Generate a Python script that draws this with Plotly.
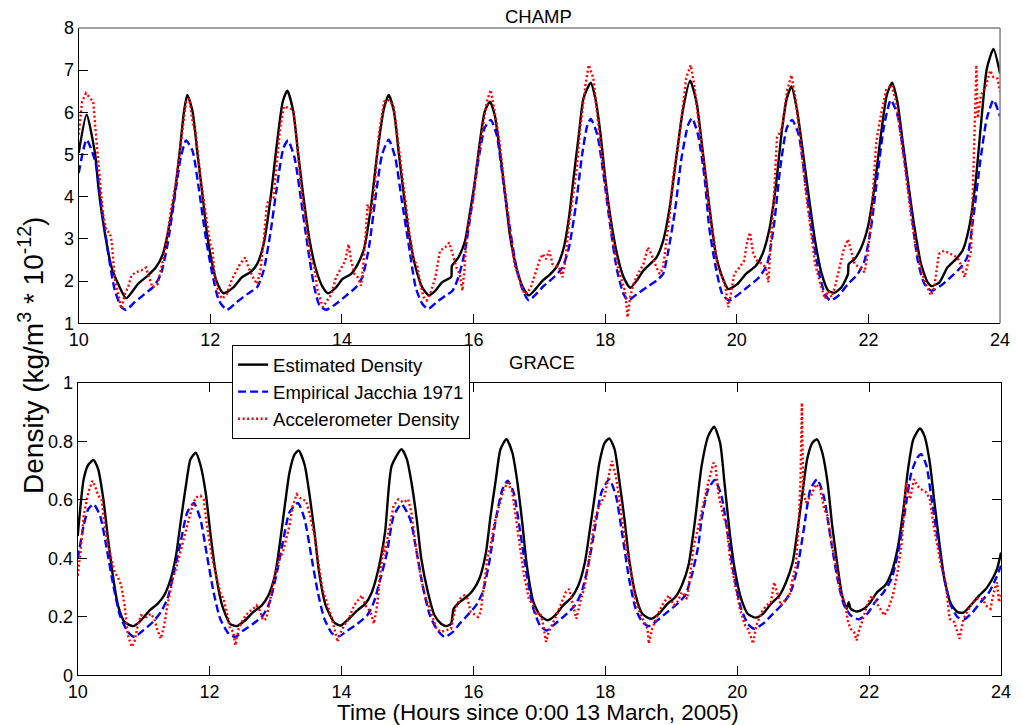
import plotly.graph_objects as go

# ---------------- data (hours, density) ----------------
champ_est = [
    (10.00, 5.04), (10.12, 5.94), (10.25, 5.00), (10.30, 4.21), (10.40, 3.11), (10.50, 2.32), (10.60, 1.93),
    (10.72, 1.59), (10.90, 1.93), (11.05, 2.13), (11.17, 2.32), (11.28, 2.64), (11.35, 3.11), (11.45, 3.97),
    (11.53, 5.00), (11.60, 6.02), (11.65, 6.41), (11.73, 6.02), (11.80, 5.08), (11.88, 4.05), (11.95, 3.11),
    (12.03, 2.40), (12.10, 1.97), (12.20, 1.71), (12.35, 1.85), (12.48, 2.09), (12.61, 2.21), (12.71, 2.40),
    (12.81, 2.87), (12.91, 3.90), (13.01, 5.23), (13.10, 6.25), (13.17, 6.51), (13.26, 6.02), (13.33, 5.08),
    (13.41, 4.05), (13.51, 2.95), (13.61, 2.25), (13.71, 1.85), (13.79, 1.71), (13.91, 1.85), (14.01, 2.05),
    (14.14, 2.17), (14.24, 2.40), (14.34, 2.79), (14.44, 3.75), (14.54, 5.08), (14.64, 6.10), (14.71, 6.41),
    (14.79, 6.02), (14.86, 5.08), (14.94, 4.05), (15.02, 3.11), (15.12, 2.32), (15.22, 1.85), (15.32, 1.66),
    (15.42, 1.77), (15.52, 1.97), (15.66, 2.10), (15.67, 2.36), (15.77, 2.56), (15.87, 2.95), (15.94, 3.58),
    (16.02, 4.37), (16.09, 5.23), (16.17, 6.02), (16.25, 6.25), (16.32, 5.94), (16.40, 5.08), (16.48, 4.05),
    (16.55, 3.11), (16.65, 2.32), (16.75, 1.85), (16.84, 1.66), (16.92, 1.77), (17.05, 2.01), (17.17, 2.17),
    (17.27, 2.36), (17.37, 2.79), (17.45, 3.51), (17.52, 4.45), (17.60, 5.47), (17.67, 6.33), (17.78, 6.70),
    (17.85, 6.33), (17.93, 5.47), (18.00, 4.45), (18.08, 3.51), (18.18, 2.64), (18.28, 2.09), (18.38, 1.84),
    (18.48, 2.01), (18.58, 2.25), (18.68, 2.40), (18.78, 2.56), (18.88, 2.95), (18.98, 3.74), (19.08, 4.92),
    (19.18, 6.05), (19.29, 6.75), (19.39, 6.22), (19.48, 5.10), (19.58, 3.80), (19.68, 2.64), (19.78, 2.09),
    (19.87, 1.81), (20.01, 1.93), (20.14, 2.17), (20.29, 2.36), (20.39, 2.64), (20.49, 3.19), (20.59, 4.21),
    (20.69, 5.63), (20.76, 6.33), (20.83, 6.61), (20.91, 6.10), (20.99, 5.23), (21.09, 4.05), (21.19, 2.95),
    (21.29, 2.17), (21.39, 1.77), (21.48, 1.72), (21.59, 1.85), (21.69, 2.17), (21.70, 2.40), (21.79, 2.52),
    (21.89, 2.79), (21.99, 3.27), (22.09, 4.21), (22.19, 5.47), (22.28, 6.41), (22.36, 6.70), (22.44, 6.25),
    (22.52, 5.31), (22.60, 4.37), (22.70, 3.27), (22.80, 2.40), (22.90, 1.97), (22.96, 1.88), (23.08, 1.97),
    (23.20, 2.32), (23.33, 2.52), (23.43, 2.72), (23.53, 3.27), (23.63, 4.37), (23.71, 5.71), (23.80, 7.04),
    (23.90, 7.50), (24.00, 6.92),
]

champ_jac = [
    (10.00, 4.56), (10.12, 5.35), (10.25, 4.84), (10.35, 3.74), (10.45, 2.64), (10.55, 1.77), (10.65, 1.38),
    (10.72, 1.32), (10.85, 1.50), (11.00, 1.69), (11.15, 1.89), (11.25, 2.17), (11.35, 2.87), (11.45, 3.90),
    (11.55, 4.92), (11.63, 5.33), (11.73, 5.08), (11.83, 4.13), (11.93, 3.03), (12.03, 2.17), (12.13, 1.54),
    (12.25, 1.32), (12.40, 1.50), (12.56, 1.69), (12.71, 1.85), (12.81, 2.25), (12.91, 3.11), (13.01, 4.21),
    (13.11, 5.15), (13.18, 5.33), (13.28, 4.92), (13.38, 3.90), (13.48, 2.80), (13.58, 1.85), (13.66, 1.42),
    (13.76, 1.32), (13.91, 1.46), (14.06, 1.65), (14.21, 1.85), (14.31, 2.09), (14.41, 2.80), (14.51, 3.98),
    (14.61, 5.00), (14.71, 5.35), (14.81, 4.92), (14.91, 3.90), (15.02, 2.80), (15.12, 1.85), (15.22, 1.46),
    (15.31, 1.34), (15.44, 1.50), (15.57, 1.65), (15.68, 1.77), (15.77, 2.09), (15.87, 2.72), (15.97, 3.74),
    (16.07, 4.84), (16.17, 5.63), (16.26, 5.82), (16.35, 5.47), (16.45, 4.37), (16.55, 3.27), (16.65, 2.32),
    (16.75, 1.77), (16.84, 1.54), (16.95, 1.69), (17.07, 1.89), (17.22, 2.09), (17.35, 2.32), (17.45, 2.80),
    (17.55, 3.74), (17.65, 5.00), (17.73, 5.70), (17.78, 5.84), (17.88, 5.47), (17.98, 4.45), (18.08, 3.27),
    (18.18, 2.25), (18.28, 1.69), (18.35, 1.54), (18.48, 1.69), (18.63, 1.85), (18.78, 2.01), (18.88, 2.17),
    (18.95, 2.64), (19.06, 3.66), (19.16, 4.92), (19.26, 5.70), (19.32, 5.86), (19.41, 5.47), (19.51, 4.45),
    (19.58, 3.27), (19.68, 2.32), (19.78, 1.69), (19.88, 1.54), (20.03, 1.69), (20.19, 1.89), (20.34, 2.09),
    (20.46, 2.40), (20.56, 3.27), (20.66, 4.68), (20.76, 5.63), (20.84, 5.82), (20.94, 5.47), (21.04, 4.37),
    (21.14, 3.19), (21.24, 2.25), (21.34, 1.69), (21.42, 1.54), (21.54, 1.65), (21.69, 1.93), (21.84, 2.17),
    (21.94, 2.48), (22.04, 3.27), (22.14, 4.53), (22.24, 5.70), (22.34, 6.29), (22.44, 5.94), (22.55, 4.84),
    (22.65, 3.66), (22.75, 2.48), (22.85, 1.93), (22.96, 1.77), (23.10, 1.89), (23.25, 2.09), (23.40, 2.32),
    (23.50, 2.56), (23.60, 3.58), (23.70, 4.84), (23.80, 5.86), (23.90, 6.29), (24.00, 5.90),
]

champ_acc = [
    (10.00, 5.47), (10.05, 6.25), (10.11, 6.45), (10.17, 6.33), (10.22, 6.25), (10.27, 5.31), (10.32, 4.37),
    (10.37, 3.58), (10.42, 3.19), (10.47, 3.15), (10.50, 2.95), (10.55, 2.01), (10.60, 1.69), (10.65, 1.34),
    (10.70, 1.69), (10.75, 1.85), (10.80, 2.13), (10.87, 2.21), (10.95, 2.25), (11.02, 2.32), (11.07, 2.09),
    (11.12, 1.85), (11.20, 1.93), (11.25, 2.25), (11.30, 2.64), (11.35, 3.11), (11.40, 3.66), (11.48, 4.37),
    (11.55, 5.31), (11.63, 6.25), (11.68, 6.33), (11.73, 5.78), (11.78, 5.47), (11.85, 4.45), (11.93, 3.58),
    (12.00, 2.87), (12.03, 2.80), (12.06, 2.17), (12.13, 1.69), (12.18, 1.58), (12.25, 1.69), (12.33, 2.05),
    (12.40, 2.25), (12.45, 2.40), (12.53, 2.56), (12.58, 2.32), (12.66, 2.05), (12.71, 1.93), (12.76, 2.25),
    (12.81, 2.95), (12.86, 3.82), (12.91, 3.97), (12.96, 3.97), (13.01, 4.76), (13.06, 5.63), (13.12, 6.14),
    (13.18, 6.11), (13.26, 6.06), (13.31, 5.39), (13.38, 4.21), (13.46, 3.27), (13.53, 2.48), (13.58, 2.32),
    (13.63, 1.77), (13.71, 1.38), (13.76, 1.50), (13.84, 1.69), (13.91, 2.09), (13.99, 2.32), (14.05, 2.48),
    (14.10, 2.87), (14.14, 2.48), (14.19, 2.17), (14.24, 2.09), (14.29, 1.89), (14.32, 2.32), (14.36, 3.11),
    (14.39, 3.82), (14.44, 3.58), (14.49, 4.13), (14.56, 5.47), (14.64, 6.25), (14.69, 6.30), (14.74, 6.25),
    (14.79, 6.10), (14.86, 5.23), (14.94, 4.13), (15.02, 3.19), (15.09, 2.48), (15.14, 2.40), (15.19, 1.93),
    (15.24, 1.62), (15.29, 1.54), (15.34, 1.69), (15.42, 2.09), (15.49, 2.72), (15.57, 2.80), (15.63, 2.91),
    (15.68, 2.64), (15.74, 2.32), (15.79, 2.17), (15.83, 1.77), (15.86, 2.25), (15.89, 2.95), (15.94, 3.51),
    (15.99, 3.90), (16.04, 4.61), (16.12, 5.47), (16.20, 6.25), (16.26, 6.53), (16.32, 6.02), (16.40, 5.23),
    (16.47, 4.21), (16.55, 3.27), (16.62, 2.40), (16.67, 2.17), (16.72, 1.93), (16.77, 1.69), (16.82, 1.73),
    (16.87, 1.85), (16.92, 2.09), (17.00, 2.48), (17.05, 2.64), (17.10, 2.52), (17.15, 2.72), (17.20, 2.40),
    (17.30, 2.32), (17.35, 2.09), (17.40, 2.56), (17.45, 3.35), (17.50, 3.90), (17.57, 4.68), (17.62, 5.63),
    (17.70, 6.65), (17.75, 7.12), (17.82, 6.81), (17.88, 5.94), (17.95, 4.92), (18.03, 3.97), (18.10, 3.11),
    (18.18, 2.40), (18.25, 2.01), (18.30, 1.77), (18.34, 1.14), (18.38, 1.62), (18.43, 1.93), (18.50, 2.17),
    (18.58, 2.40), (18.65, 2.80), (18.70, 2.64), (18.78, 2.32), (18.83, 2.17), (18.88, 2.32), (18.93, 2.95),
    (18.98, 3.58), (19.03, 4.45), (19.11, 5.23), (19.16, 5.86), (19.23, 6.81), (19.30, 7.12), (19.36, 6.57),
    (19.43, 5.63), (19.48, 5.08), (19.58, 3.74), (19.66, 2.87), (19.71, 2.32), (19.78, 2.09), (19.83, 1.85),
    (19.87, 1.38), (19.91, 1.69), (19.96, 2.17), (20.04, 2.32), (20.11, 2.48), (20.16, 2.95), (20.20, 3.15),
    (20.25, 2.64), (20.31, 2.48), (20.39, 2.40), (20.44, 2.32), (20.48, 1.97), (20.51, 2.80), (20.56, 3.90),
    (20.61, 5.39), (20.69, 5.63), (20.76, 6.49), (20.83, 6.88), (20.89, 6.33), (20.97, 5.31), (21.04, 4.21),
    (21.12, 3.19), (21.19, 2.40), (21.27, 1.93), (21.34, 1.58), (21.39, 1.77), (21.44, 1.62), (21.49, 1.85),
    (21.54, 2.17), (21.62, 2.72), (21.69, 2.99), (21.74, 2.72), (21.79, 2.40), (21.87, 2.32), (21.94, 2.21),
    (21.99, 2.64), (22.04, 3.43), (22.12, 5.31), (22.19, 5.94), (22.27, 6.53), (22.35, 6.65), (22.42, 6.25),
    (22.49, 5.47), (22.57, 4.53), (22.65, 3.51), (22.72, 2.80), (22.80, 2.25), (22.87, 1.93), (22.95, 1.66),
    (23.00, 1.85), (23.07, 2.64), (23.15, 2.72), (23.25, 2.64), (23.35, 2.56), (23.40, 2.40), (23.46, 2.09),
    (23.51, 2.40), (23.56, 2.72), (23.60, 4.84), (23.64, 7.12), (23.66, 5.86), (23.71, 6.41), (23.79, 6.65),
    (23.85, 6.99), (23.90, 6.83), (23.96, 6.80), (24.00, 6.49),
]

grace_est = [
    (10.00, 0.477), (10.09, 0.670), (10.16, 0.720), (10.24, 0.736), (10.31, 0.705), (10.39, 0.600),
    (10.46, 0.466), (10.54, 0.330), (10.61, 0.239), (10.71, 0.182), (10.84, 0.168), (10.96, 0.188),
    (11.09, 0.222), (11.21, 0.244), (11.31, 0.273), (11.41, 0.330), (11.49, 0.409), (11.56, 0.523),
    (11.64, 0.648), (11.71, 0.739), (11.79, 0.761), (11.86, 0.720), (11.94, 0.625), (12.01, 0.489),
    (12.09, 0.352), (12.19, 0.239), (12.31, 0.176), (12.41, 0.168), (12.54, 0.188), (12.66, 0.216),
    (12.79, 0.239), (12.89, 0.273), (12.99, 0.341), (13.06, 0.443), (13.14, 0.580), (13.21, 0.693),
    (13.29, 0.756), (13.35, 0.769), (13.44, 0.720), (13.51, 0.625), (13.59, 0.489), (13.66, 0.352),
    (13.76, 0.239), (13.89, 0.180), (13.99, 0.170), (14.11, 0.193), (14.24, 0.222), (14.36, 0.244),
    (14.46, 0.284), (14.56, 0.364), (14.66, 0.489), (14.76, 0.716), (14.91, 0.773), (14.99, 0.739),
    (15.06, 0.660), (15.14, 0.534), (15.21, 0.398), (15.31, 0.284), (15.41, 0.205), (15.51, 0.176),
    (15.59, 0.168), (15.66, 0.176), (15.70, 0.227), (15.79, 0.250), (15.89, 0.267), (15.99, 0.290),
    (16.09, 0.330), (16.19, 0.420), (16.26, 0.545), (16.34, 0.670), (16.41, 0.773), (16.50, 0.807),
    (16.59, 0.761), (16.66, 0.670), (16.74, 0.523), (16.81, 0.375), (16.91, 0.250), (17.01, 0.205),
    (17.12, 0.188), (17.24, 0.205), (17.36, 0.239), (17.49, 0.267), (17.59, 0.307), (17.69, 0.386),
    (17.76, 0.489), (17.84, 0.614), (17.91, 0.727), (17.99, 0.795), (18.06, 0.810), (18.14, 0.773),
    (18.21, 0.670), (18.29, 0.534), (18.36, 0.398), (18.46, 0.273), (18.56, 0.210), (18.69, 0.193),
    (18.81, 0.210), (18.94, 0.244), (19.06, 0.267), (19.16, 0.307), (19.26, 0.375), (19.36, 0.530),
    (19.46, 0.716), (19.56, 0.818), (19.65, 0.850), (19.74, 0.795), (19.81, 0.650), (19.89, 0.480),
    (19.96, 0.365), (20.06, 0.261), (20.16, 0.210), (20.28, 0.197), (20.39, 0.210), (20.51, 0.244),
    (20.64, 0.273), (20.74, 0.318), (20.84, 0.386), (20.91, 0.489), (20.99, 0.625), (21.06, 0.739),
    (21.14, 0.795), (21.21, 0.807), (21.29, 0.761), (21.37, 0.659), (21.44, 0.511), (21.52, 0.375),
    (21.59, 0.273), (21.66, 0.227), (21.69, 0.250), (21.72, 0.227), (21.82, 0.218), (21.92, 0.227),
    (22.02, 0.250), (22.12, 0.284), (22.24, 0.307), (22.34, 0.352), (22.44, 0.443), (22.52, 0.568),
    (22.59, 0.705), (22.67, 0.807), (22.77, 0.844), (22.84, 0.818), (22.92, 0.727), (22.99, 0.591),
    (23.07, 0.443), (23.14, 0.330), (23.24, 0.244), (23.34, 0.216), (23.43, 0.214), (23.54, 0.239),
    (23.67, 0.273), (23.77, 0.295), (23.87, 0.330), (23.94, 0.364), (24.00, 0.420),
]

grace_jac = [
    (10.00, 0.398), (10.09, 0.511), (10.16, 0.568), (10.24, 0.585), (10.34, 0.545), (10.44, 0.432),
    (10.54, 0.307), (10.64, 0.205), (10.76, 0.148), (10.86, 0.131), (10.99, 0.153), (11.14, 0.182),
    (11.26, 0.216), (11.36, 0.261), (11.46, 0.352), (11.56, 0.455), (11.66, 0.557), (11.76, 0.589),
    (11.86, 0.534), (11.96, 0.409), (12.06, 0.284), (12.16, 0.193), (12.29, 0.142), (12.39, 0.131),
    (12.51, 0.153), (12.66, 0.176), (12.81, 0.205), (12.91, 0.250), (13.01, 0.341), (13.11, 0.455),
    (13.21, 0.557), (13.34, 0.589), (13.44, 0.534), (13.54, 0.409), (13.64, 0.284), (13.74, 0.193),
    (13.86, 0.142), (13.96, 0.133), (14.09, 0.153), (14.24, 0.176), (14.39, 0.205), (14.49, 0.250),
    (14.59, 0.330), (14.69, 0.420), (14.79, 0.545), (14.91, 0.585), (15.04, 0.534), (15.14, 0.420),
    (15.24, 0.295), (15.34, 0.205), (15.44, 0.159), (15.56, 0.131), (15.69, 0.148), (15.79, 0.176),
    (15.91, 0.205), (16.04, 0.239), (16.14, 0.284), (16.24, 0.386), (16.34, 0.534), (16.44, 0.636),
    (16.52, 0.665), (16.61, 0.625), (16.71, 0.489), (16.81, 0.341), (16.91, 0.227), (17.01, 0.170),
    (17.11, 0.153), (17.24, 0.176), (17.39, 0.205), (17.54, 0.239), (17.64, 0.284), (17.74, 0.375),
    (17.84, 0.500), (17.94, 0.625), (18.06, 0.670), (18.16, 0.614), (18.26, 0.477), (18.36, 0.330),
    (18.46, 0.227), (18.56, 0.182), (18.66, 0.168), (18.79, 0.188), (18.94, 0.216), (19.09, 0.244),
    (19.21, 0.273), (19.31, 0.341), (19.41, 0.443), (19.46, 0.534), (19.56, 0.636), (19.66, 0.668),
    (19.76, 0.614), (19.86, 0.477), (19.96, 0.330), (20.06, 0.227), (20.16, 0.176), (20.26, 0.159),
    (20.39, 0.176), (20.54, 0.210), (20.69, 0.244), (20.81, 0.284), (20.91, 0.364), (21.01, 0.500),
    (21.11, 0.636), (21.21, 0.670), (21.31, 0.614), (21.41, 0.477), (21.52, 0.330), (21.62, 0.239),
    (21.72, 0.205), (21.84, 0.191), (21.97, 0.210), (22.09, 0.250), (22.22, 0.284), (22.34, 0.330),
    (22.44, 0.420), (22.54, 0.557), (22.64, 0.693), (22.73, 0.744), (22.79, 0.756), (22.87, 0.716),
    (22.94, 0.614), (23.04, 0.466), (23.14, 0.330), (23.24, 0.239), (23.34, 0.199), (23.44, 0.191),
    (23.57, 0.216), (23.69, 0.250), (23.82, 0.284), (23.92, 0.330), (24.00, 0.375),
]

grace_acc = [
    (10.00, 0.341), (10.04, 0.420), (10.09, 0.545), (10.16, 0.625), (10.22, 0.665), (10.26, 0.648),
    (10.31, 0.614), (10.36, 0.602), (10.41, 0.511), (10.46, 0.443), (10.51, 0.398), (10.56, 0.352),
    (10.61, 0.335), (10.66, 0.307), (10.71, 0.239), (10.76, 0.136), (10.82, 0.097), (10.86, 0.114),
    (10.91, 0.170), (10.96, 0.205), (11.04, 0.199), (11.11, 0.210), (11.16, 0.193), (11.21, 0.153),
    (11.26, 0.125), (11.31, 0.170), (11.36, 0.239), (11.44, 0.330), (11.49, 0.364), (11.54, 0.409),
    (11.59, 0.455), (11.64, 0.500), (11.69, 0.545), (11.74, 0.580), (11.79, 0.608), (11.86, 0.614),
    (11.91, 0.602), (11.96, 0.511), (12.04, 0.398), (12.09, 0.352), (12.16, 0.284), (12.21, 0.261),
    (12.26, 0.216), (12.31, 0.159), (12.36, 0.148), (12.39, 0.102), (12.44, 0.159), (12.51, 0.193),
    (12.59, 0.216), (12.66, 0.227), (12.71, 0.239), (12.76, 0.222), (12.81, 0.188), (12.86, 0.193),
    (12.91, 0.250), (12.96, 0.307), (13.01, 0.364), (13.06, 0.398), (13.11, 0.420), (13.16, 0.466),
    (13.21, 0.511), (13.26, 0.580), (13.32, 0.619), (13.39, 0.602), (13.46, 0.597), (13.51, 0.557),
    (13.59, 0.477), (13.64, 0.398), (13.71, 0.295), (13.79, 0.239), (13.86, 0.188), (13.94, 0.114),
    (13.99, 0.148), (14.04, 0.170), (14.11, 0.193), (14.19, 0.239), (14.26, 0.261), (14.31, 0.273),
    (14.36, 0.239), (14.44, 0.216), (14.49, 0.176), (14.54, 0.239), (14.59, 0.352), (14.64, 0.443),
    (14.66, 0.409), (14.71, 0.489), (14.79, 0.580), (14.86, 0.602), (14.94, 0.591), (15.01, 0.602),
    (15.06, 0.557), (15.11, 0.466), (15.19, 0.352), (15.26, 0.273), (15.34, 0.227), (15.39, 0.193),
    (15.44, 0.159), (15.51, 0.148), (15.59, 0.153), (15.66, 0.159), (15.71, 0.216), (15.79, 0.261),
    (15.86, 0.273), (15.91, 0.261), (15.96, 0.216), (16.02, 0.205), (16.07, 0.199), (16.11, 0.216),
    (16.16, 0.307), (16.21, 0.398), (16.26, 0.443), (16.31, 0.511), (16.39, 0.580), (16.46, 0.636),
    (16.52, 0.659), (16.59, 0.625), (16.64, 0.545), (16.69, 0.466), (16.76, 0.352), (16.84, 0.261),
    (16.91, 0.239), (16.96, 0.205), (17.01, 0.216), (17.06, 0.170), (17.10, 0.114), (17.14, 0.148),
    (17.19, 0.170), (17.26, 0.205), (17.34, 0.250), (17.40, 0.284), (17.45, 0.295), (17.51, 0.239),
    (17.56, 0.193), (17.62, 0.250), (17.69, 0.307), (17.76, 0.409), (17.84, 0.534), (17.91, 0.580),
    (17.99, 0.614), (18.06, 0.693), (18.10, 0.733), (18.16, 0.682), (18.21, 0.602), (18.26, 0.534),
    (18.31, 0.443), (18.39, 0.352), (18.46, 0.250), (18.54, 0.205), (18.59, 0.182), (18.64, 0.159),
    (18.66, 0.108), (18.71, 0.159), (18.79, 0.205), (18.86, 0.239), (18.96, 0.273), (19.04, 0.239),
    (19.09, 0.250), (19.16, 0.284), (19.24, 0.261), (19.29, 0.352), (19.34, 0.443), (19.39, 0.489),
    (19.49, 0.591), (19.56, 0.659), (19.64, 0.727), (19.67, 0.716), (19.72, 0.614), (19.79, 0.545),
    (19.84, 0.511), (19.89, 0.398), (19.97, 0.307), (20.04, 0.227), (20.12, 0.170), (20.16, 0.159),
    (20.20, 0.136), (20.24, 0.108), (20.29, 0.170), (20.37, 0.216), (20.44, 0.239), (20.51, 0.250),
    (20.56, 0.318), (20.60, 0.284), (20.66, 0.239), (20.74, 0.261), (20.79, 0.273), (20.84, 0.330),
    (20.89, 0.375), (20.93, 0.511), (20.96, 0.670), (20.98, 0.932), (21.00, 0.636), (21.04, 0.591),
    (21.12, 0.614), (21.19, 0.653), (21.26, 0.636), (21.32, 0.568), (21.37, 0.545), (21.42, 0.466),
    (21.49, 0.375), (21.57, 0.284), (21.64, 0.239), (21.68, 0.182), (21.72, 0.159), (21.77, 0.148),
    (21.81, 0.119), (21.84, 0.148), (21.89, 0.182), (21.97, 0.239), (22.04, 0.273), (22.11, 0.250),
    (22.17, 0.227), (22.23, 0.205), (22.29, 0.227), (22.36, 0.273), (22.43, 0.352), (22.49, 0.443),
    (22.53, 0.557), (22.56, 0.659), (22.62, 0.602), (22.68, 0.670), (22.73, 0.648), (22.79, 0.636),
    (22.87, 0.625), (22.92, 0.602), (22.97, 0.523), (23.04, 0.443), (23.09, 0.375), (23.16, 0.318),
    (23.22, 0.193), (23.29, 0.182), (23.37, 0.125), (23.43, 0.193), (23.49, 0.216), (23.57, 0.250),
    (23.64, 0.261), (23.72, 0.261), (23.77, 0.239), (23.84, 0.227), (23.89, 0.284), (23.94, 0.318),
    (23.97, 0.250), (24.00, 0.273),
]

x_ticks = [10, 12, 14, 16, 18, 20, 22, 24]
champ_yticks = [1, 2, 3, 4, 5, 6, 7, 8]
grace_yticks = [0, 0.2, 0.4, 0.6, 0.8, 1.0]
grace_yticktext = ["0", "0.2", "0.4", "0.6", "0.8", "1"]
series_names = ["Estimated Density", "Empirical Jacchia 1971", "Accelerometer Density"]

# ---------------- layout helpers ----------------
FONT = "Liberation Sans, Arial, sans-serif"
W, H = 1021, 725
# observed: the figure ends up in a 1005 x 709 area offset by 8 px in the photo
OFF, AW, AH = 8, 1005, 709


def px(X):
    return (X - OFF) / AW


def py(Y):
    return 1 - (Y - OFF) / AH


top_x = [px(77), px(1002)]
top_y = [py(323), py(26)]
bot_x = [px(76), px(1003)]
bot_y = [py(677), py(383)]

styles = [
    dict(color="#000000", width=2.4, dash="solid", shape="spline"),
    dict(color="#0000FF", width=2.4, dash="8px,4px", shape="spline"),
    dict(color="#FF0000", width=2.4, dash="2px,2.5px", shape="linear"),
]


def unzip(pairs):
    return [p[0] for p in pairs], [p[1] for p in pairs]


fig = go.Figure()
for i, (series, st) in enumerate(zip([champ_est, champ_jac, champ_acc], styles)):
    xs, ys = unzip(series)
    fig.add_trace(go.Scatter(x=xs, y=ys, mode="lines", name=series_names[i],
                             line=dict(color=st["color"], width=st["width"], dash=st["dash"],
                                       shape=st["shape"], smoothing=0.6),
                             xaxis="x", yaxis="y", showlegend=True))
for i, (series, st) in enumerate(zip([grace_est, grace_jac, grace_acc], styles)):
    xs, ys = unzip(series)
    fig.add_trace(go.Scatter(x=xs, y=ys, mode="lines", name=series_names[i],
                             line=dict(color=st["color"], width=st["width"], dash=st["dash"],
                                       shape=st["shape"], smoothing=0.6),
                             xaxis="x2", yaxis="y2", showlegend=False))

axis_common = dict(showgrid=False, zeroline=False, showline=True, linecolor="black", linewidth=1,
                   ticks="inside", ticklen=9, tickwidth=1, tickcolor="black",
                   tickfont=dict(family=FONT, size=18, color="black"))

fig.update_layout(
    width=W, height=H,
    margin=dict(l=0, r=0, t=0, b=0),
    paper_bgcolor="white", plot_bgcolor="white",
    font=dict(family=FONT, color="black"),
    xaxis=dict(domain=top_x, anchor="y", range=[10, 24], tickvals=x_ticks, mirror=False, **axis_common),
    yaxis=dict(domain=top_y, anchor="x", range=[1, 8], tickvals=champ_yticks, mirror=False, **axis_common),
    xaxis2=dict(domain=bot_x, anchor="y2", range=[10, 24], tickvals=x_ticks, mirror="ticks", **axis_common),
    yaxis2=dict(domain=bot_y, anchor="x2", range=[0, 1], tickvals=grace_yticks, ticktext=grace_yticktext,
                mirror="ticks", **axis_common),
    legend=dict(x=px(231), y=py(345), xanchor="left", yanchor="top",
                bgcolor="white", bordercolor="black", borderwidth=1,
                font=dict(family=FONT, size=18.5, color="black"),
                tracegroupgap=0, itemwidth=30),
    showlegend=True,
)

# gray top/right borders of the upper axes (as in the original)
fig.add_shape(type="line", xref="paper", yref="paper", x0=top_x[0], x1=top_x[1], y0=top_y[1], y1=top_y[1],
              line=dict(color="#808080", width=1.5))
fig.add_shape(type="line", xref="paper", yref="paper", x0=top_x[1], x1=top_x[1], y0=top_y[0], y1=top_y[1],
              line=dict(color="#808080", width=1.5))

fig.add_annotation(text="CHAMP", x=px(539), y=py(15), xref="paper", yref="paper",
                   showarrow=False, xanchor="center", yanchor="middle",
                   font=dict(family=FONT, size=18.5, color="black"))
fig.add_annotation(text="GRACE", x=px(542), y=py(363), xref="paper", yref="paper",
                   showarrow=False, xanchor="center", yanchor="middle",
                   font=dict(family=FONT, size=18.5, color="black"))
fig.add_annotation(text="Time (Hours since 0:00 13 March, 2005)", x=px(538), y=py(714),
                   xref="paper", yref="paper", showarrow=False, xanchor="center", yanchor="middle",
                   font=dict(family=FONT, size=22.5, color="black"))
fig.add_annotation(text="Density (kg/m<sup>3</sup> * 10<sup>-12</sup>)", x=px(29), y=py(355),
                   xref="paper", yref="paper", showarrow=False, textangle=-90,
                   xanchor="center", yanchor="middle",
                   font=dict(family=FONT, size=28, color="black"))

fig.write_html("out.html")
